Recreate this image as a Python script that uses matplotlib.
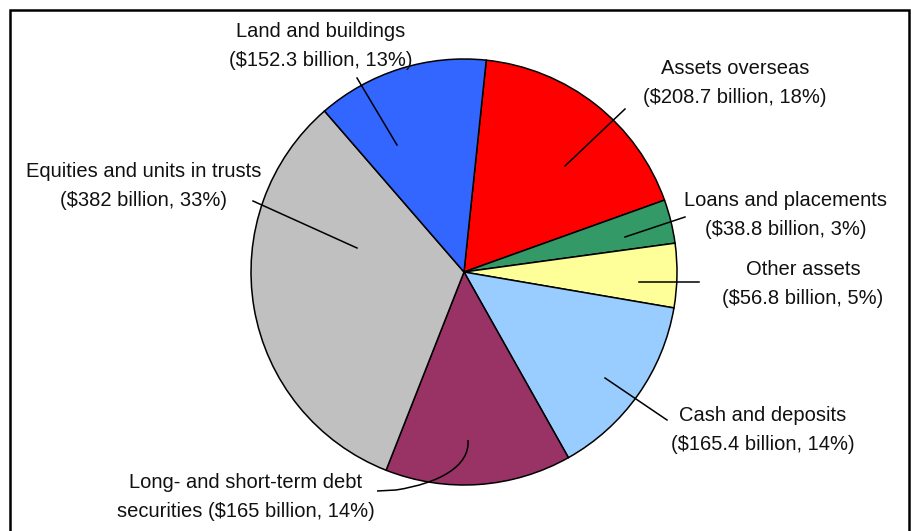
import matplotlib
matplotlib.use("Agg")
import matplotlib.pyplot as plt
from matplotlib.path import Path
from matplotlib.patches import PathPatch, Rectangle

plt.rcParams['font.family'] = ['Liberation Sans', 'DejaVu Sans']

# data (billions of dollars), clockwise from the top
names = ['Assets overseas', 'Loans and placements', 'Other assets', 'Cash and deposits',
         'Long- and short-term debt\nsecurities', 'Equities and units in trusts', 'Land and buildings']
values = [208.7, 38.8, 56.8, 165.4, 165, 382, 152.3]
value_text = ['$208.7 billion', '$38.8 billion', '$56.8 billion', '$165.4 billion',
              '$165 billion', '$382 billion', '$152.3 billion']
percent = [18, 3, 5, 14, 14, 33, 13]
colors = ['#FF0000', '#339966', '#FFFF99', '#99CCFF', '#993366', '#C0C0C0', '#3366FF']

W, H = 911, 531
fig = plt.figure(figsize=(W / 100, H / 100), dpi=100)
ax = fig.add_axes([0, 0, 1, 1])

# pixel helper: y measured from top of image
def px(x, y):
    return x, H - y

# pie
ax.pie(values, colors=colors, startangle=84, counterclock=False,
       center=px(464, 272), radius=213, frame=True,
       wedgeprops=dict(edgecolor='black', linewidth=1.1))
ax.set_xlim(0, W)
ax.set_ylim(0, H)
ax.set_aspect('equal')
ax.axis('off')

# frame around chart
ax.add_patch(Rectangle(px(10, 540), 899, 530, fill=False, lw=1.8, ec='black'))

# label lines and text positions (pixels)
label_pos = [(735, 83), (786, 215), (803, 284), (763, 430), (246, 497), (144, 186), (321, 46)]
leader = [[(625, 109), (565, 166)],
          [(685, 217), (625, 237)],
          [(699, 282), (639, 282)],
          [(667, 420), (605, 378)],
          None,
          [(253, 201), (357, 248)],
          [(357, 78), (397, 145)]]

for i in range(len(values)):
    if i == 4:
        txt = '%s ($%s, %d%%)' % (names[i], value_text[i][1:], percent[i])
    else:
        txt = '%s\n(%s, %d%%)' % (names[i], value_text[i], percent[i])
    x, y = px(*label_pos[i])
    ax.text(x, y, txt, ha='center', va='center', fontsize=14.5, linespacing=1.68,
            color='#111111')
    if leader[i] is not None:
        (x0, y0), (x1, y1) = leader[i]
        ax.plot([x0, x1], [H - y0, H - y1], color='black', lw=1.1)

# curved leader for debt securities
verts = [px(377, 491), px(396, 490), px(440, 483), px(470, 466), px(468, 440)]
codes = [Path.MOVETO, Path.LINETO, Path.CURVE4, Path.CURVE4, Path.CURVE4]
ax.add_patch(PathPatch(Path(verts, codes), fill=False, lw=1.1, ec='black'))

fig.savefig('out.png', dpi=100)
